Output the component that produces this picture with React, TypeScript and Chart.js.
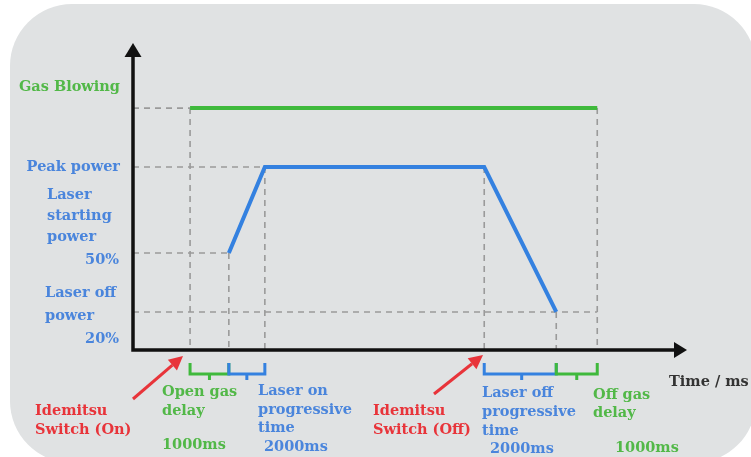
import React, { useEffect, useRef } from "react";
import { Chart, registerables } from "chart.js";

Chart.register(...registerables);

// Time positions (arbitrary schematic units along the time axis, 0..100)
const gasTime = [10.3, 83.8];
const gasLevel = [78.8, 78.8];
const laserTime = [17.3, 23.8, 63.4, 76.4];
const laserLevel = [31.6, 59.6, 59.6, 12.4];
const axisMax = [100, 100];

// Level labels on the left
const levelLabels = ["Gas Blowing", "Peak power", "Laser starting power 50%", "Laser off power 20%"];

const GREEN = "#3fb93c";
const GREEN_TXT = "#52b848";
const BLUE = "#3481e0";
const BLUE_TXT = "#4a85dc";
const RED = "#e8343a";
const GUIDE = "#9a9a9a";

type Seg = [number, number, number, number];

function buildGuides(): Seg[] {
  const g: Seg[] = [];
  g.push([0, gasLevel[0], gasTime[0], gasLevel[0]]);
  g.push([gasTime[0], gasLevel[0], gasTime[0], 0]);
  g.push([gasTime[1], gasLevel[1], gasTime[1], 0]);
  g.push([0, laserLevel[1], laserTime[1], laserLevel[1]]);
  g.push([laserTime[1], laserLevel[1], laserTime[1], 0]);
  g.push([laserTime[2], laserLevel[2], laserTime[2], 0]);
  g.push([0, laserLevel[0], laserTime[0], laserLevel[0]]);
  g.push([laserTime[0], laserLevel[0], laserTime[0], 0]);
  g.push([0, laserLevel[3], gasTime[1], laserLevel[3]]);
  g.push([laserTime[3], laserLevel[3], laserTime[3], 0]);
  return g;
}

const decorPlugin = {
  id: "decor",
  beforeDraw(chart: any) {
    const ctx = chart.ctx as CanvasRenderingContext2D;
    ctx.save();
    ctx.fillStyle = "#ffffff";
    ctx.fillRect(0, 0, chart.width, chart.height);
    ctx.fillStyle = "#e0e2e3";
    ctx.beginPath();
    (ctx as any).roundRect(10, 4, 746, 459, 62);
    ctx.fill();
    ctx.restore();
  },
  afterDatasetsDraw(chart: any) {
    const ctx = chart.ctx as CanvasRenderingContext2D;
    const xs = chart.scales.x;
    const ys = chart.scales.y;
    const L = chart.chartArea.left;
    const B = chart.chartArea.bottom;
    const T = ys.getPixelForValue(axisMax[1]);
    const R = xs.getPixelForValue(axisMax[0]);
    ctx.save();
    ctx.strokeStyle = "#111";
    ctx.fillStyle = "#111";
    ctx.lineWidth = 3.5;
    ctx.lineCap = "butt";
    ctx.beginPath();
    ctx.moveTo(L, B + 1.75);
    ctx.lineTo(L, T + 10);
    ctx.moveTo(L - 1.75, B);
    ctx.lineTo(R - 10, B);
    ctx.stroke();
    ctx.beginPath();
    ctx.moveTo(L, T);
    ctx.lineTo(L + 8.5, T + 14);
    ctx.lineTo(L - 8.5, T + 14);
    ctx.closePath();
    ctx.fill();
    ctx.beginPath();
    ctx.moveTo(R, B);
    ctx.lineTo(R - 13, B - 8);
    ctx.lineTo(R - 13, B + 8);
    ctx.closePath();
    ctx.fill();

    const bracket = (x1: number, x2: number, tick: number, color: string) => {
      const p1 = xs.getPixelForValue(x1);
      const p2 = xs.getPixelForValue(x2);
      const pt = p1 + (p2 - p1) * tick;
      ctx.strokeStyle = color;
      ctx.lineWidth = 3;
      ctx.lineJoin = "miter";
      ctx.beginPath();
      ctx.moveTo(p1, B + 13);
      ctx.lineTo(p1, B + 24);
      ctx.lineTo(p2, B + 24);
      ctx.lineTo(p2, B + 13);
      ctx.moveTo(pt, B + 24);
      ctx.lineTo(pt, B + 30);
      ctx.stroke();
    };
    bracket(gasTime[0], laserTime[0], 0.5, GREEN);
    bracket(laserTime[0], laserTime[1], 0.5, BLUE);
    bracket(laserTime[2], laserTime[3], 0.52, BLUE);
    bracket(laserTime[3], gasTime[1], 0.5, GREEN);

    const arrow = (x1: number, y1: number, x2: number, y2: number) => {
      ctx.strokeStyle = RED;
      ctx.fillStyle = RED;
      ctx.lineWidth = 3;
      const a = Math.atan2(y2 - y1, x2 - x1);
      const hl = 14;
      const hw = 7;
      const bx = x2 - hl * Math.cos(a);
      const by = y2 - hl * Math.sin(a);
      ctx.beginPath();
      ctx.moveTo(x1, y1);
      ctx.lineTo(bx, by);
      ctx.stroke();
      ctx.beginPath();
      ctx.moveTo(x2, y2);
      ctx.lineTo(bx + hw * Math.sin(a), by - hw * Math.cos(a));
      ctx.lineTo(bx - hw * Math.sin(a), by + hw * Math.cos(a));
      ctx.closePath();
      ctx.fill();
    };
    arrow(133, 399, 183, 356);
    arrow(434, 394, 483, 355);

    ctx.font = 'bold 14.5px "DejaVu Serif"';
    ctx.textBaseline = "middle";
    const txt = (s: string, x: number, y: number, color: string, align: CanvasTextAlign = "left") => {
      ctx.fillStyle = color;
      ctx.textAlign = align;
      ctx.fillText(s, x, y);
    };
    const lx = 120;
    txt(levelLabels[0], lx, 87, GREEN_TXT, "right");
    txt(levelLabels[1], lx, ys.getPixelForValue(laserLevel[1]), BLUE_TXT, "right");
    txt("Laser", 47, 195, BLUE_TXT);
    txt("starting", 47, 216, BLUE_TXT);
    txt("power", 47, 237, BLUE_TXT);
    txt("50%", 119, 260, BLUE_TXT, "right");
    txt("Laser off", 45, 293, BLUE_TXT);
    txt("power", 45, 316, BLUE_TXT);
    txt("20%", 119, 339, BLUE_TXT, "right");

    txt("Idemitsu", 35, 411, RED);
    txt("Switch (On)", 35, 430, RED);
    txt("Open gas", 162, 392, GREEN_TXT);
    txt("delay", 162, 411, GREEN_TXT);
    txt("1000ms", 162, 445, GREEN_TXT);
    txt("Laser on", 258, 391, BLUE_TXT);
    txt("progressive", 258, 410, BLUE_TXT);
    txt("time", 258, 428, BLUE_TXT);
    txt("2000ms", 264, 447, BLUE_TXT);

    txt("Idemitsu", 373, 411, RED);
    txt("Switch (Off)", 373, 430, RED);
    txt("Laser off", 482, 393, BLUE_TXT);
    txt("progressive", 482, 412, BLUE_TXT);
    txt("time", 482, 431, BLUE_TXT);
    txt("2000ms", 490, 449, BLUE_TXT);
    txt("Off gas", 593, 395, GREEN_TXT);
    txt("delay", 593, 413, GREEN_TXT);
    txt("1000ms", 615, 448, GREEN_TXT);

    txt("Time / ms", 669, 382, "#333333");
    ctx.restore();
  },
};

export default function App() {
  const ref = useRef<HTMLCanvasElement | null>(null);
  useEffect(() => {
    if (!ref.current) return;
    const guides = buildGuides();
    const guideSets = guides.map((s) => ({
      data: [
        { x: s[0], y: s[1] },
        { x: s[2], y: s[3] },
      ],
      borderColor: GUIDE,
      borderWidth: 1.6,
      borderDash: [6, 5],
      pointRadius: 0,
      fill: false,
      tension: 0,
    }));
    const chart = new Chart(ref.current, {
      type: "line",
      data: {
        datasets: [
          {
            label: "Gas",
            data: gasTime.map((t, i) => ({ x: t, y: gasLevel[i] })),
            borderColor: GREEN,
            borderWidth: 4,
            pointRadius: 0,
            fill: false,
            tension: 0,
          },
          {
            label: "Laser",
            data: laserTime.map((t, i) => ({ x: t, y: laserLevel[i] })),
            borderColor: BLUE,
            borderWidth: 4,
            pointRadius: 0,
            fill: false,
            tension: 0,
            borderJoinStyle: "miter",
          },
          ...guideSets,
        ] as any,
      },
      options: {
        animation: false,
        responsive: false,
        devicePixelRatio: 1,
        layout: { padding: { left: 133, right: 64, top: 43, bottom: 107 } },
        scales: {
          x: { type: "linear", display: false, min: 0, max: 100 },
          y: { type: "linear", display: false, min: 0, max: 100 },
        },
        plugins: { legend: { display: false }, tooltip: { enabled: false } },
        events: [],
      } as any,
      plugins: [decorPlugin],
    });
    return () => chart.destroy();
  }, []);
  return (
    <div style={{ position: "absolute", left: 0, top: 0, width: 751, height: 457 }}>
      <canvas ref={ref} width={751} height={457} style={{ display: "block" }} />
    </div>
  );
}
